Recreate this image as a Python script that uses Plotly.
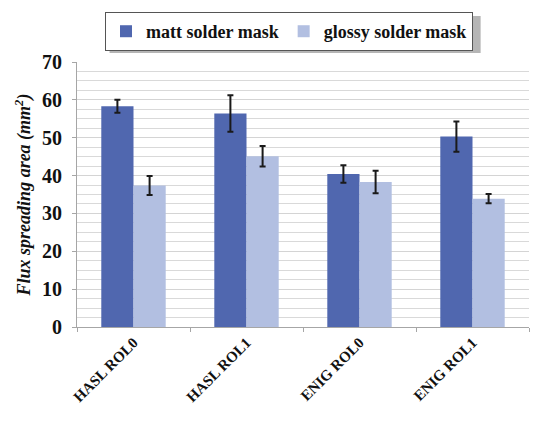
import plotly.graph_objects as go

categories = ["HASL ROL0", "HASL ROL1", "ENIG ROL0", "ENIG ROL1"]
matt_values = [58.3, 56.4, 40.4, 50.3]
matt_errors = [1.7, 4.8, 2.3, 4.0]
glossy_values = [37.4, 45.1, 38.3, 33.9]
glossy_errors = [2.5, 2.7, 3.0, 1.2]
series_names = ["matt solder mask", "glossy solder mask"]

SERIF = "Liberation Serif"

fig = go.Figure()
fig.add_trace(go.Bar(
    x=categories, y=matt_values, name="<b>" + series_names[0] + "</b>",
    marker=dict(color="#5067AF", line=dict(width=0)),
    error_y=dict(type="data", array=matt_errors, color="#1a1a1a", thickness=2, width=3),
))
fig.add_trace(go.Bar(
    x=categories, y=glossy_values, name="<b>" + series_names[1] + "</b>",
    marker=dict(color="#B2BFE1", line=dict(width=0)),
    error_y=dict(type="data", array=glossy_errors, color="#1a1a1a", thickness=2, width=3),
))

fig.update_layout(
    width=532, height=414,
    margin=dict(l=69, r=11, t=54, b=95, autoexpand=False),
    paper_bgcolor="white", plot_bgcolor="white",
    barmode="group", bargap=0.43, bargroupgap=0,
    font=dict(family=SERIF, color="#111111"),
    legend=dict(
        orientation="h", x=0.469, y=1.115, xanchor="center", yanchor="middle",
        font=dict(family=SERIF, size=18, color="#111111"),
        bordercolor="#555555", borderwidth=1, bgcolor="white",
        itemwidth=30, tracegroupgap=0,
    ),
    showlegend=True,
    shapes=[dict(
        type="rect", xref="paper", yref="paper",
        x0=0.072, x1=0.893, y0=1.034, y1=1.174,
        fillcolor="#b5b5b5", line=dict(width=0), layer="below",
    )],
)

fig.update_xaxes(
    type="category", automargin=False,
    showline=True, linecolor="#a6a6a6", linewidth=1,
    ticks="outside", tickson="boundaries", ticklen=4, tickcolor="#a6a6a6",
    tickangle=-45,
    tickfont=dict(family=SERIF, size=15, color="#111111", weight="bold"),
    showgrid=False,
)
fig.update_yaxes(
    range=[0, 70], dtick=10, automargin=False,
    showline=True, linecolor="#a6a6a6", linewidth=1,
    ticks="outside", ticklen=4, tickcolor="#a6a6a6",
    ticklabelstandoff=6,
    tickfont=dict(family=SERIF, size=20, color="#111111", weight="bold"),
    showgrid=True, gridcolor="#d4d4d4", gridwidth=1,
    minor=dict(dtick=2.5, showgrid=True, gridcolor="#d9d9d9", gridwidth=1),
    zeroline=False,
    title=dict(
        text="<i>Flux spreading area (mm<sup>2</sup>)</i>",
        font=dict(family=SERIF, size=18, color="#111111", weight="bold"),
        standoff=6,
    ),
)

fig.write_html("out.html")
